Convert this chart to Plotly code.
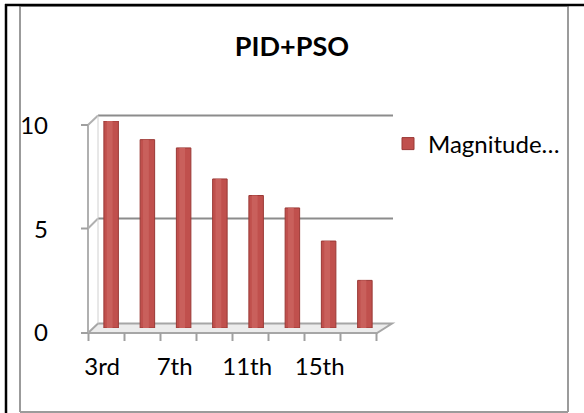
import plotly.graph_objects as go

# ---- data ----
categories = ["3rd", "5th", "7th", "9th", "11th", "13th", "15th", "17th"]
magnitude = [10.0, 9.1, 8.7, 7.2, 6.4, 5.8, 4.2, 2.3]
series_name = "Magnitude…"
x_tick_labels = ["3rd", "7th", "11th", "15th"]
y_ticks = [0, 5, 10]
title_text = "PID+PSO"

# ---- geometry (pixels) ----
W, H = 584, 413
L, R, T, B = 93, 201, 121, 85
PW, PH = W - L - R, H - T - B


def px(x):
    return (x - L) / PW


def py(y):
    return (H - B - y) / PH


FONT = "Lato"
GRID = "#8c8c8c"

fig = go.Figure()
fig.add_trace(go.Bar(x=categories, y=magnitude, name=series_name,
                     marker=dict(color="#c0504d", line=dict(color="#9a3835", width=1)),
                     width=0.4, showlegend=True))
fig.add_trace(go.Bar(x=categories, y=magnitude, name=series_name,
                     marker=dict(color="#c9605c", line=dict(width=0)),
                     width=0.16, offset=-0.12, showlegend=False, hoverinfo="skip"))

shapes = []


def line(x0, y0, x1, y1, color=GRID, w=2, layer="below"):
    shapes.append(dict(type="line", xref="paper", yref="paper",
                       x0=px(x0), y0=py(y0), x1=px(x1), y1=py(y1),
                       line=dict(color=color, width=w), layer=layer))


# floor
shapes.append(dict(type="path", xref="paper", yref="paper",
                   path=f"M{px(88)},{py(333)} L{px(377)},{py(333)} L{px(392)},{py(323.5)} L{px(98)},{py(323.5)} Z",
                   fillcolor="#ececec", line=dict(color="#a6a6a6", width=2), layer="below"))
# back wall gridlines (10 and 5) + diagonals
for yf, yb in [(125, 115.5), (228.5, 218.5)]:
    line(98, yb, 393, yb)
    line(88, yf, 98, yb, color="#b0b0b0")
# left wall back edge
line(98, 115.5, 98, 323.5, color="#d0d0d0", w=1)
# front y axis line and ticks
line(88, 125, 88, 333, color="#b0b0b0")
for yf in [125, 228.5, 333]:
    line(81, yf, 88, yf, color="#a0a0a0")
# x-axis ticks
for i in range(9):
    xt = 88.5 + i * 36.0
    line(xt, 333, xt, 341, color="#a0a0a0")

# borders
line(20, 6, 568, 6, color="#9b9b9b", w=2, layer="above")
line(20, 6, 20, 412, color="#9b9b9b", w=2, layer="above")
line(568, 6, 568, 412, color="#9b9b9b", w=2, layer="above")
line(20, 412, 568, 412, color="#9b9b9b", w=2, layer="above")
line(6, 4, 6, 413, color="black", w=2.5, layer="above")
line(5, 5, 584, 5, color="black", w=2.5, layer="above")

fig.update_layout(
    width=W, height=H,
    margin=dict(l=L, r=R, t=T, b=B),
    paper_bgcolor="white", plot_bgcolor="rgba(0,0,0,0)",
    barmode="overlay",
    font=dict(family=FONT, color="black"),
    title=dict(text=f"<b>{title_text}</b>", x=292 / W, xanchor="center",
               y=1 - 47 / H, yanchor="middle", font=dict(size=27, family=FONT)),
    xaxis=dict(type="category", categoryorder="array", categoryarray=categories,
               tickvals=x_tick_labels, ticktext=x_tick_labels,
               showgrid=False, showline=False, zeroline=False, ticks="",
               tickfont=dict(size=24), ticklabelstandoff=22, ticklabelshift=-9,
               range=[-0.5, 7.5]),
    yaxis=dict(range=[0, 10], tickvals=y_ticks, showgrid=False, showline=False,
               zeroline=False, ticks="", tickfont=dict(size=24),
               ticklabelstandoff=44, ticklabelshift=5),
    legend=dict(x=px(388), xanchor="left", y=py(144), yanchor="middle",
                font=dict(size=24), bgcolor="rgba(0,0,0,0)", itemclick=False),
    shapes=shapes,
)

fig.write_html("out.html")
